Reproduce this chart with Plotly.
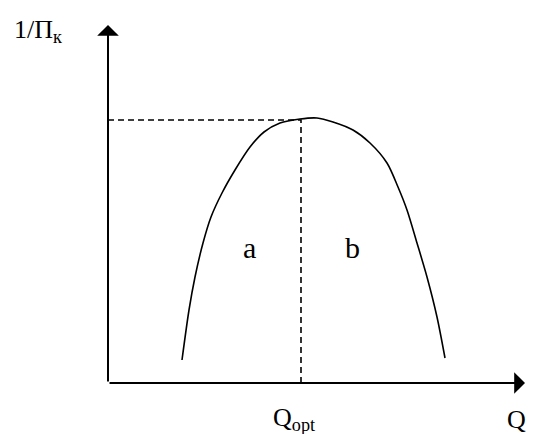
import plotly.graph_objects as go

# curve 1/Pk vs Q (schematic units, origin at the axes' corner)
q_left = [74, 81, 87, 95, 103, 114, 127, 142, 156, 172, 192]
pk_left = [23, 73, 106, 140, 166, 190, 213, 236, 251, 260, 264]
q_right = [209, 225, 245, 262, 279, 290, 299, 309, 319, 329, 337]
pk_right = [265, 261, 253, 240, 220, 196, 173, 140, 106, 66, 25]

q_curve = q_left + q_right
pk_curve = pk_left + pk_right

q_opt = 193
pk_max = 263
x_end = 417
y_end = 358

serif = "Liberation Serif, Times New Roman, serif"
font = dict(family=serif, size=26, color="black")
font_ab = dict(family=serif, size=30, color="black")

fig = go.Figure()
fig.add_trace(go.Scatter(x=q_curve, y=pk_curve, mode="lines",
                         line=dict(color="black", width=1.6, shape="spline", smoothing=0.8)))
# dashed guides to the optimum
fig.add_trace(go.Scatter(x=[0, q_opt, q_opt], y=[pk_max, pk_max, 0], mode="lines",
                         line=dict(color="black", width=1.6, dash="6px,4px")))

# axes with arrows
for tip in [(0, y_end), (x_end, 0)]:
    fig.add_annotation(x=tip[0], y=tip[1], ax=0, ay=0, xref="x", yref="y",
                       axref="x", ayref="y", text="", showarrow=True,
                       arrowhead=1, arrowsize=1.8, arrowwidth=2, arrowcolor="black")

fig.add_annotation(x=-96, y=352, text="1/Π<sub>к</sub>", showarrow=False,
                   xanchor="left", font=font)
fig.add_annotation(x=141, y=136, text="a", showarrow=False, font=font_ab)
fig.add_annotation(x=244, y=136, text="b", showarrow=False, font=font_ab)
fig.add_annotation(x=163, y=-36, text="Q<sub>opt</sub>", showarrow=False,
                   xanchor="left", font=font)
fig.add_annotation(x=397, y=-36, text="Q", showarrow=False, xanchor="left", font=font)

# the page body adds an 8px offset, so the figure is sized to the visible area
fig.update_layout(
    width=518, height=426,
    margin=dict(l=0, r=0, t=0, b=0),
    plot_bgcolor="white", paper_bgcolor="white",
    showlegend=False,
    xaxis=dict(range=[-100, 418], visible=False, fixedrange=True),
    yaxis=dict(range=[-51, 375], visible=False, fixedrange=True),
)

fig.write_html("out.html")
